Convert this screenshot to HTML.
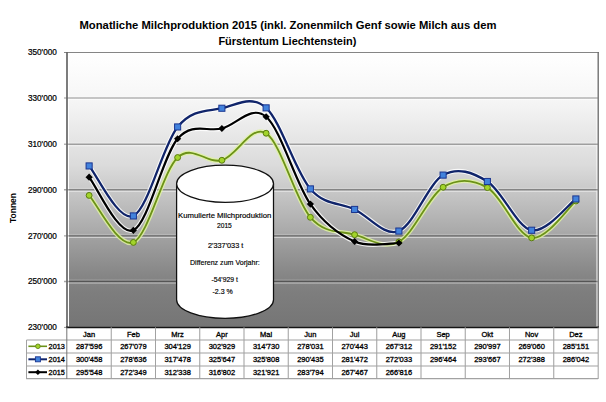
<!DOCTYPE html>
<html><head><meta charset="utf-8"><style>
html,body{margin:0;padding:0;background:#fff;}
body{width:606px;height:402px;overflow:hidden;}
svg{display:block;}
text{font-family:"Liberation Sans",sans-serif;fill:#000;}
.ax{font-size:8.2px;stroke:#000;stroke-width:0.22px;}
.tt{font-size:10.4px;font-weight:bold;}
.yl{font-size:8.5px;font-weight:bold;}
.tb{font-size:7.5px;stroke:#000;stroke-width:0.3px;}
.lg{font-size:7.3px;stroke:#000;stroke-width:0.3px;}
.cy{font-size:7.2px;stroke:#000;stroke-width:0.16px;}
</style></head><body>
<svg width="606" height="402" viewBox="0 0 606 402">
<defs><linearGradient id="bg" x1="0" y1="0" x2="0" y2="1"><stop offset="0" stop-color="#ffffff"/><stop offset="0.17" stop-color="#f6f6f6"/><stop offset="0.32" stop-color="#e5e5e5"/><stop offset="0.41" stop-color="#dbdbdb"/><stop offset="0.46" stop-color="#d1d1d1"/><stop offset="0.52" stop-color="#c4c4c4"/><stop offset="0.65" stop-color="#aaaaaa"/><stop offset="0.68" stop-color="#a0a0a0"/><stop offset="0.81" stop-color="#868686"/><stop offset="0.87" stop-color="#7e7e7e"/><stop offset="0.99" stop-color="#767676"/><stop offset="1.0" stop-color="#757575"/></linearGradient></defs>
<rect x="69" y="53" width="527.5" height="273.6" fill="url(#bg)"/>
<text x="56.8" y="55.4" text-anchor="end" class="ax">350'000</text>
<line x1="64" y1="98.00" x2="598.0" y2="98.00" stroke="rgba(0,0,0,0.27)" stroke-width="1.4"/>
<line x1="69" y1="99.50" x2="596.5" y2="99.50" stroke="rgba(255,255,255,0.55)" stroke-width="1"/>
<line x1="69" y1="96.50" x2="596.5" y2="96.50" stroke="rgba(255,255,255,0.22)" stroke-width="1"/>
<text x="56.8" y="100.9" text-anchor="end" class="ax">330'000</text>
<line x1="64" y1="144.30" x2="598.0" y2="144.30" stroke="rgba(0,0,0,0.3)" stroke-width="1.4"/>
<line x1="69" y1="145.80" x2="596.5" y2="145.80" stroke="rgba(255,255,255,0.55)" stroke-width="1"/>
<line x1="69" y1="142.80" x2="596.5" y2="142.80" stroke="rgba(255,255,255,0.22)" stroke-width="1"/>
<text x="56.8" y="147.2" text-anchor="end" class="ax">310'000</text>
<line x1="64" y1="189.80" x2="598.0" y2="189.80" stroke="rgba(0,0,0,0.34)" stroke-width="1.4"/>
<line x1="69" y1="191.30" x2="596.5" y2="191.30" stroke="rgba(255,255,255,0.55)" stroke-width="1"/>
<line x1="69" y1="188.30" x2="596.5" y2="188.30" stroke="rgba(255,255,255,0.22)" stroke-width="1"/>
<text x="56.8" y="192.7" text-anchor="end" class="ax">290'000</text>
<line x1="64" y1="235.90" x2="598.0" y2="235.90" stroke="rgba(0,0,0,0.35)" stroke-width="1.4"/>
<line x1="69" y1="237.40" x2="596.5" y2="237.40" stroke="rgba(255,255,255,0.55)" stroke-width="1"/>
<line x1="69" y1="234.40" x2="596.5" y2="234.40" stroke="rgba(255,255,255,0.22)" stroke-width="1"/>
<text x="56.8" y="238.8" text-anchor="end" class="ax">270'000</text>
<line x1="64" y1="281.50" x2="598.0" y2="281.50" stroke="rgba(0,0,0,0.35)" stroke-width="1.4"/>
<line x1="69" y1="283.00" x2="596.5" y2="283.00" stroke="rgba(255,255,255,0.55)" stroke-width="1"/>
<line x1="69" y1="280.00" x2="596.5" y2="280.00" stroke="rgba(255,255,255,0.22)" stroke-width="1"/>
<text x="56.8" y="284.4" text-anchor="end" class="ax">250'000</text>
<text x="56.8" y="330.3" text-anchor="end" class="ax">230'000</text>
<line x1="64" y1="52.5" x2="599" y2="52.5" stroke="#858585" stroke-width="1"/>
<line x1="64" y1="327.4" x2="66" y2="327.4" stroke="#999" stroke-width="1"/>
<line x1="67" y1="52" x2="67" y2="328" stroke="#666666" stroke-width="1.7"/>
<line x1="598.2" y1="52" x2="598.2" y2="328" stroke="#707070" stroke-width="1.4"/>
<line x1="66" y1="327.4" x2="599" y2="327.4" stroke="#151515" stroke-width="1.6"/>
<path d="M89.12,195.41 C96.50,203.24 118.62,248.72 133.38,242.41 C148.12,236.10 162.88,171.22 177.62,157.53 C192.38,143.85 207.12,164.33 221.88,160.28 C236.62,156.23 251.38,123.74 266.12,133.25 C280.88,142.75 295.62,200.41 310.38,217.32 C325.12,234.23 339.88,230.61 354.62,234.70 C369.38,238.79 384.12,249.78 398.88,241.87 C413.62,233.97 428.38,196.30 443.12,187.26 C457.88,178.22 472.62,179.18 487.38,187.62 C502.12,196.05 516.88,235.64 531.62,237.87 C546.38,240.10 568.50,207.15 575.88,201.01" fill="none" stroke="#dff2a0" stroke-opacity="0.85" stroke-width="4.4" stroke-linejoin="round"/>
<path d="M89.12,165.94 C96.50,174.27 118.62,222.43 133.38,215.93 C148.12,209.43 162.88,144.90 177.62,126.95 C192.38,109.00 207.12,111.42 221.88,108.24 C236.62,105.06 251.38,94.43 266.12,107.87 C280.88,121.31 295.62,171.98 310.38,188.90 C325.12,205.83 339.88,202.41 354.62,209.44 C369.38,216.46 384.12,236.78 398.88,231.06 C413.62,225.34 428.38,183.35 443.12,175.09 C457.88,166.83 472.62,172.31 487.38,181.50 C502.12,190.69 516.88,227.33 531.62,230.25 C546.38,233.16 568.50,204.18 575.88,198.97" fill="none" stroke="#ffffff" stroke-opacity="0.85" stroke-width="4.4" stroke-linejoin="round"/>
<path d="M89.12,177.19 C96.50,186.05 118.62,236.75 133.38,230.34 C148.12,223.92 162.88,155.70 177.62,138.73 C192.38,121.75 207.12,132.16 221.88,128.50 C236.62,124.84 251.38,104.17 266.12,116.77 C280.88,129.38 295.62,183.33 310.38,204.12 C325.12,224.91 339.88,235.04 354.62,241.52 C369.38,248.00 391.50,242.76 398.88,243.01" fill="none" stroke="#ffffff" stroke-opacity="0.85" stroke-width="4.4" stroke-linejoin="round"/>
<path d="M89.12,195.41 C96.50,203.24 118.62,248.72 133.38,242.41 C148.12,236.10 162.88,171.22 177.62,157.53 C192.38,143.85 207.12,164.33 221.88,160.28 C236.62,156.23 251.38,123.74 266.12,133.25 C280.88,142.75 295.62,200.41 310.38,217.32 C325.12,234.23 339.88,230.61 354.62,234.70 C369.38,238.79 384.12,249.78 398.88,241.87 C413.62,233.97 428.38,196.30 443.12,187.26 C457.88,178.22 472.62,179.18 487.38,187.62 C502.12,196.05 516.88,235.64 531.62,237.87 C546.38,240.10 568.50,207.15 575.88,201.01" fill="none" stroke="#6c9218" stroke-width="1.8" stroke-linejoin="round"/>
<path d="M89.12,165.94 C96.50,174.27 118.62,222.43 133.38,215.93 C148.12,209.43 162.88,144.90 177.62,126.95 C192.38,109.00 207.12,111.42 221.88,108.24 C236.62,105.06 251.38,94.43 266.12,107.87 C280.88,121.31 295.62,171.98 310.38,188.90 C325.12,205.83 339.88,202.41 354.62,209.44 C369.38,216.46 384.12,236.78 398.88,231.06 C413.62,225.34 428.38,183.35 443.12,175.09 C457.88,166.83 472.62,172.31 487.38,181.50 C502.12,190.69 516.88,227.33 531.62,230.25 C546.38,233.16 568.50,204.18 575.88,198.97" fill="none" stroke="#10246a" stroke-width="2.3" stroke-linejoin="round"/>
<path d="M89.12,177.19 C96.50,186.05 118.62,236.75 133.38,230.34 C148.12,223.92 162.88,155.70 177.62,138.73 C192.38,121.75 207.12,132.16 221.88,128.50 C236.62,124.84 251.38,104.17 266.12,116.77 C280.88,129.38 295.62,183.33 310.38,204.12 C325.12,224.91 339.88,235.04 354.62,241.52 C369.38,248.00 391.50,242.76 398.88,243.01" fill="none" stroke="#000000" stroke-width="2.2" stroke-linejoin="round"/>
<circle cx="89.12" cy="195.41" r="2.95" fill="#a2d42a" stroke="#5a7c10" stroke-width="1"/>
<circle cx="133.38" cy="242.41" r="2.95" fill="#a2d42a" stroke="#5a7c10" stroke-width="1"/>
<circle cx="177.62" cy="157.53" r="2.95" fill="#a2d42a" stroke="#5a7c10" stroke-width="1"/>
<circle cx="221.88" cy="160.28" r="2.95" fill="#a2d42a" stroke="#5a7c10" stroke-width="1"/>
<circle cx="266.12" cy="133.25" r="2.95" fill="#a2d42a" stroke="#5a7c10" stroke-width="1"/>
<circle cx="310.38" cy="217.32" r="2.95" fill="#a2d42a" stroke="#5a7c10" stroke-width="1"/>
<circle cx="354.62" cy="234.70" r="2.95" fill="#a2d42a" stroke="#5a7c10" stroke-width="1"/>
<circle cx="398.88" cy="241.87" r="2.95" fill="#a2d42a" stroke="#5a7c10" stroke-width="1"/>
<circle cx="443.12" cy="187.26" r="2.95" fill="#a2d42a" stroke="#5a7c10" stroke-width="1"/>
<circle cx="487.38" cy="187.62" r="2.95" fill="#a2d42a" stroke="#5a7c10" stroke-width="1"/>
<circle cx="531.62" cy="237.87" r="2.95" fill="#a2d42a" stroke="#5a7c10" stroke-width="1"/>
<circle cx="575.88" cy="201.01" r="2.95" fill="#a2d42a" stroke="#5a7c10" stroke-width="1"/>
<rect x="86.08" y="162.89" width="6.1" height="6.1" fill="#4282dc" stroke="#1a3590" stroke-width="1"/>
<rect x="130.32" y="212.88" width="6.1" height="6.1" fill="#4282dc" stroke="#1a3590" stroke-width="1"/>
<rect x="174.57" y="123.90" width="6.1" height="6.1" fill="#4282dc" stroke="#1a3590" stroke-width="1"/>
<rect x="218.82" y="105.19" width="6.1" height="6.1" fill="#4282dc" stroke="#1a3590" stroke-width="1"/>
<rect x="263.07" y="104.82" width="6.1" height="6.1" fill="#4282dc" stroke="#1a3590" stroke-width="1"/>
<rect x="307.32" y="185.85" width="6.1" height="6.1" fill="#4282dc" stroke="#1a3590" stroke-width="1"/>
<rect x="351.57" y="206.39" width="6.1" height="6.1" fill="#4282dc" stroke="#1a3590" stroke-width="1"/>
<rect x="395.82" y="228.01" width="6.1" height="6.1" fill="#4282dc" stroke="#1a3590" stroke-width="1"/>
<rect x="440.07" y="172.04" width="6.1" height="6.1" fill="#4282dc" stroke="#1a3590" stroke-width="1"/>
<rect x="484.32" y="178.45" width="6.1" height="6.1" fill="#4282dc" stroke="#1a3590" stroke-width="1"/>
<rect x="528.58" y="227.20" width="6.1" height="6.1" fill="#4282dc" stroke="#1a3590" stroke-width="1"/>
<rect x="572.83" y="195.92" width="6.1" height="6.1" fill="#4282dc" stroke="#1a3590" stroke-width="1"/>
<path d="M89.12,173.59 L92.72,177.19 L89.12,180.79 L85.53,177.19Z" fill="#000"/>
<path d="M133.38,226.74 L136.97,230.34 L133.38,233.94 L129.78,230.34Z" fill="#000"/>
<path d="M177.62,135.13 L181.22,138.73 L177.62,142.33 L174.03,138.73Z" fill="#000"/>
<path d="M221.88,124.90 L225.47,128.50 L221.88,132.10 L218.28,128.50Z" fill="#000"/>
<path d="M266.12,113.17 L269.73,116.77 L266.12,120.37 L262.52,116.77Z" fill="#000"/>
<path d="M310.38,200.52 L313.98,204.12 L310.38,207.72 L306.77,204.12Z" fill="#000"/>
<path d="M354.62,237.92 L358.23,241.52 L354.62,245.12 L351.02,241.52Z" fill="#000"/>
<path d="M398.88,239.41 L402.48,243.01 L398.88,246.61 L395.27,243.01Z" fill="#000"/>
<path d="M176.60000000000002,183.75 L176.60000000000002,299.75 A48.45,18.55 0 0 0 273.5,299.75 L273.5,183.75" fill="#ffffff" stroke="#111" stroke-width="1.25"/>
<ellipse cx="225.05" cy="183.75" rx="48.45" ry="18.55" fill="#ffffff" stroke="#111" stroke-width="1.25"/>
<text x="178.0" y="218.4" textLength="93.3" lengthAdjust="spacingAndGlyphs" class="cy">Kumulierte Milchproduktion</text>
<text x="217" y="227.8" textLength="14.8" lengthAdjust="spacingAndGlyphs" class="cy">2015</text>
<text x="208" y="247.6" textLength="35.3" lengthAdjust="spacingAndGlyphs" class="cy">2'337'033 t</text>
<text x="190.0" y="264.9" textLength="69.8" lengthAdjust="spacingAndGlyphs" class="cy">Differenz zum Vorjahr:</text>
<text x="211.5" y="282.0" textLength="26.3" lengthAdjust="spacingAndGlyphs" class="cy">-54'929 t</text>
<text x="212.5" y="294.1" textLength="20.3" lengthAdjust="spacingAndGlyphs" class="cy">-2.3 %</text>
<line x1="26.5" y1="340.00" x2="598.0" y2="340.00" stroke="#a2a2a2" stroke-width="1.05"/>
<line x1="26.5" y1="352.90" x2="598.0" y2="352.90" stroke="#a2a2a2" stroke-width="1.05"/>
<line x1="26.5" y1="365.90" x2="598.0" y2="365.90" stroke="#a2a2a2" stroke-width="1.05"/>
<line x1="26.5" y1="378.60" x2="598.0" y2="378.60" stroke="#a2a2a2" stroke-width="1.05"/>
<line x1="111.25" y1="327.35" x2="111.25" y2="379.1" stroke="#a2a2a2" stroke-width="1.05"/>
<line x1="155.50" y1="327.35" x2="155.50" y2="379.1" stroke="#a2a2a2" stroke-width="1.05"/>
<line x1="199.75" y1="327.35" x2="199.75" y2="379.1" stroke="#a2a2a2" stroke-width="1.05"/>
<line x1="244.00" y1="327.35" x2="244.00" y2="379.1" stroke="#a2a2a2" stroke-width="1.05"/>
<line x1="288.25" y1="327.35" x2="288.25" y2="379.1" stroke="#a2a2a2" stroke-width="1.05"/>
<line x1="332.50" y1="327.35" x2="332.50" y2="379.1" stroke="#a2a2a2" stroke-width="1.05"/>
<line x1="376.75" y1="327.35" x2="376.75" y2="379.1" stroke="#a2a2a2" stroke-width="1.05"/>
<line x1="421.00" y1="327.35" x2="421.00" y2="379.1" stroke="#a2a2a2" stroke-width="1.05"/>
<line x1="465.25" y1="327.35" x2="465.25" y2="379.1" stroke="#a2a2a2" stroke-width="1.05"/>
<line x1="509.50" y1="327.35" x2="509.50" y2="379.1" stroke="#a2a2a2" stroke-width="1.05"/>
<line x1="553.75" y1="327.35" x2="553.75" y2="379.1" stroke="#a2a2a2" stroke-width="1.05"/>
<line x1="66.8" y1="327.35" x2="66.8" y2="379.1" stroke="#7a7a7a" stroke-width="1.05"/>
<line x1="598.2" y1="327.35" x2="598.2" y2="379.1" stroke="#a2a2a2" stroke-width="1.05"/>
<line x1="26.5" y1="340.0" x2="26.5" y2="379.1" stroke="#a2a2a2" stroke-width="1.05"/>
<text x="89.12" y="336.7" text-anchor="middle" class="tb">Jan</text>
<text x="133.38" y="336.7" text-anchor="middle" class="tb">Feb</text>
<text x="177.62" y="336.7" text-anchor="middle" class="tb">Mrz</text>
<text x="221.88" y="336.7" text-anchor="middle" class="tb">Apr</text>
<text x="266.12" y="336.7" text-anchor="middle" class="tb">Mai</text>
<text x="310.38" y="336.7" text-anchor="middle" class="tb">Jun</text>
<text x="354.62" y="336.7" text-anchor="middle" class="tb">Jul</text>
<text x="398.88" y="336.7" text-anchor="middle" class="tb">Aug</text>
<text x="443.12" y="336.7" text-anchor="middle" class="tb">Sep</text>
<text x="487.38" y="336.7" text-anchor="middle" class="tb">Okt</text>
<text x="531.62" y="336.7" text-anchor="middle" class="tb">Nov</text>
<text x="575.88" y="336.7" text-anchor="middle" class="tb">Dez</text>
<text x="89.12" y="348.9" text-anchor="middle" class="tb">287'596</text>
<text x="133.38" y="348.9" text-anchor="middle" class="tb">267'079</text>
<text x="177.62" y="348.9" text-anchor="middle" class="tb">304'129</text>
<text x="221.88" y="348.9" text-anchor="middle" class="tb">302'929</text>
<text x="266.12" y="348.9" text-anchor="middle" class="tb">314'730</text>
<text x="310.38" y="348.9" text-anchor="middle" class="tb">278'031</text>
<text x="354.62" y="348.9" text-anchor="middle" class="tb">270'443</text>
<text x="398.88" y="348.9" text-anchor="middle" class="tb">267'312</text>
<text x="443.12" y="348.9" text-anchor="middle" class="tb">291'152</text>
<text x="487.38" y="348.9" text-anchor="middle" class="tb">290'997</text>
<text x="531.62" y="348.9" text-anchor="middle" class="tb">269'060</text>
<text x="575.88" y="348.9" text-anchor="middle" class="tb">285'151</text>
<text x="89.12" y="361.8" text-anchor="middle" class="tb">300'458</text>
<text x="133.38" y="361.8" text-anchor="middle" class="tb">278'636</text>
<text x="177.62" y="361.8" text-anchor="middle" class="tb">317'478</text>
<text x="221.88" y="361.8" text-anchor="middle" class="tb">325'647</text>
<text x="266.12" y="361.8" text-anchor="middle" class="tb">325'808</text>
<text x="310.38" y="361.8" text-anchor="middle" class="tb">290'435</text>
<text x="354.62" y="361.8" text-anchor="middle" class="tb">281'472</text>
<text x="398.88" y="361.8" text-anchor="middle" class="tb">272'033</text>
<text x="443.12" y="361.8" text-anchor="middle" class="tb">296'464</text>
<text x="487.38" y="361.8" text-anchor="middle" class="tb">293'667</text>
<text x="531.62" y="361.8" text-anchor="middle" class="tb">272'388</text>
<text x="575.88" y="361.8" text-anchor="middle" class="tb">286'042</text>
<text x="89.12" y="374.5" text-anchor="middle" class="tb">295'548</text>
<text x="133.38" y="374.5" text-anchor="middle" class="tb">272'349</text>
<text x="177.62" y="374.5" text-anchor="middle" class="tb">312'338</text>
<text x="221.88" y="374.5" text-anchor="middle" class="tb">316'802</text>
<text x="266.12" y="374.5" text-anchor="middle" class="tb">321'921</text>
<text x="310.38" y="374.5" text-anchor="middle" class="tb">283'794</text>
<text x="354.62" y="374.5" text-anchor="middle" class="tb">267'467</text>
<text x="398.88" y="374.5" text-anchor="middle" class="tb">266'816</text>
<line x1="28.4" y1="346.3" x2="47" y2="346.3" stroke="#6c9218" stroke-width="1.6"/>
<circle cx="37.9" cy="346.3" r="2.3" fill="#a2d42a" stroke="#5f8214" stroke-width="0.9"/>
<text x="48.6" y="348.9" class="lg">2013</text>
<line x1="28.4" y1="359.3" x2="47" y2="359.3" stroke="#10246a" stroke-width="2"/>
<rect x="35.4" y="356.8" width="5" height="5" fill="#4282dc" stroke="#1a3590" stroke-width="0.9"/>
<text x="48.6" y="361.8" class="lg">2014</text>
<line x1="28.4" y1="372.2" x2="47" y2="372.2" stroke="#000000" stroke-width="2"/>
<path d="M37.9,369.4 L40.699999999999996,372.2 L37.9,375.0 L35.1,372.2Z" fill="#000"/>
<text x="48.6" y="374.5" class="lg">2015</text>
<text x="79.5" y="28.7" textLength="417" lengthAdjust="spacingAndGlyphs" class="tt">Monatliche Milchproduktion 2015 (inkl. Zonenmilch Genf sowie Milch aus dem</text>
<text x="218.4" y="45.2" textLength="138" lengthAdjust="spacingAndGlyphs" class="tt">F&#252;rstentum Liechtenstein)</text>
<text transform="translate(16,208) rotate(-90)" text-anchor="middle" class="yl">Tonnen</text>
</svg>
</body></html>
